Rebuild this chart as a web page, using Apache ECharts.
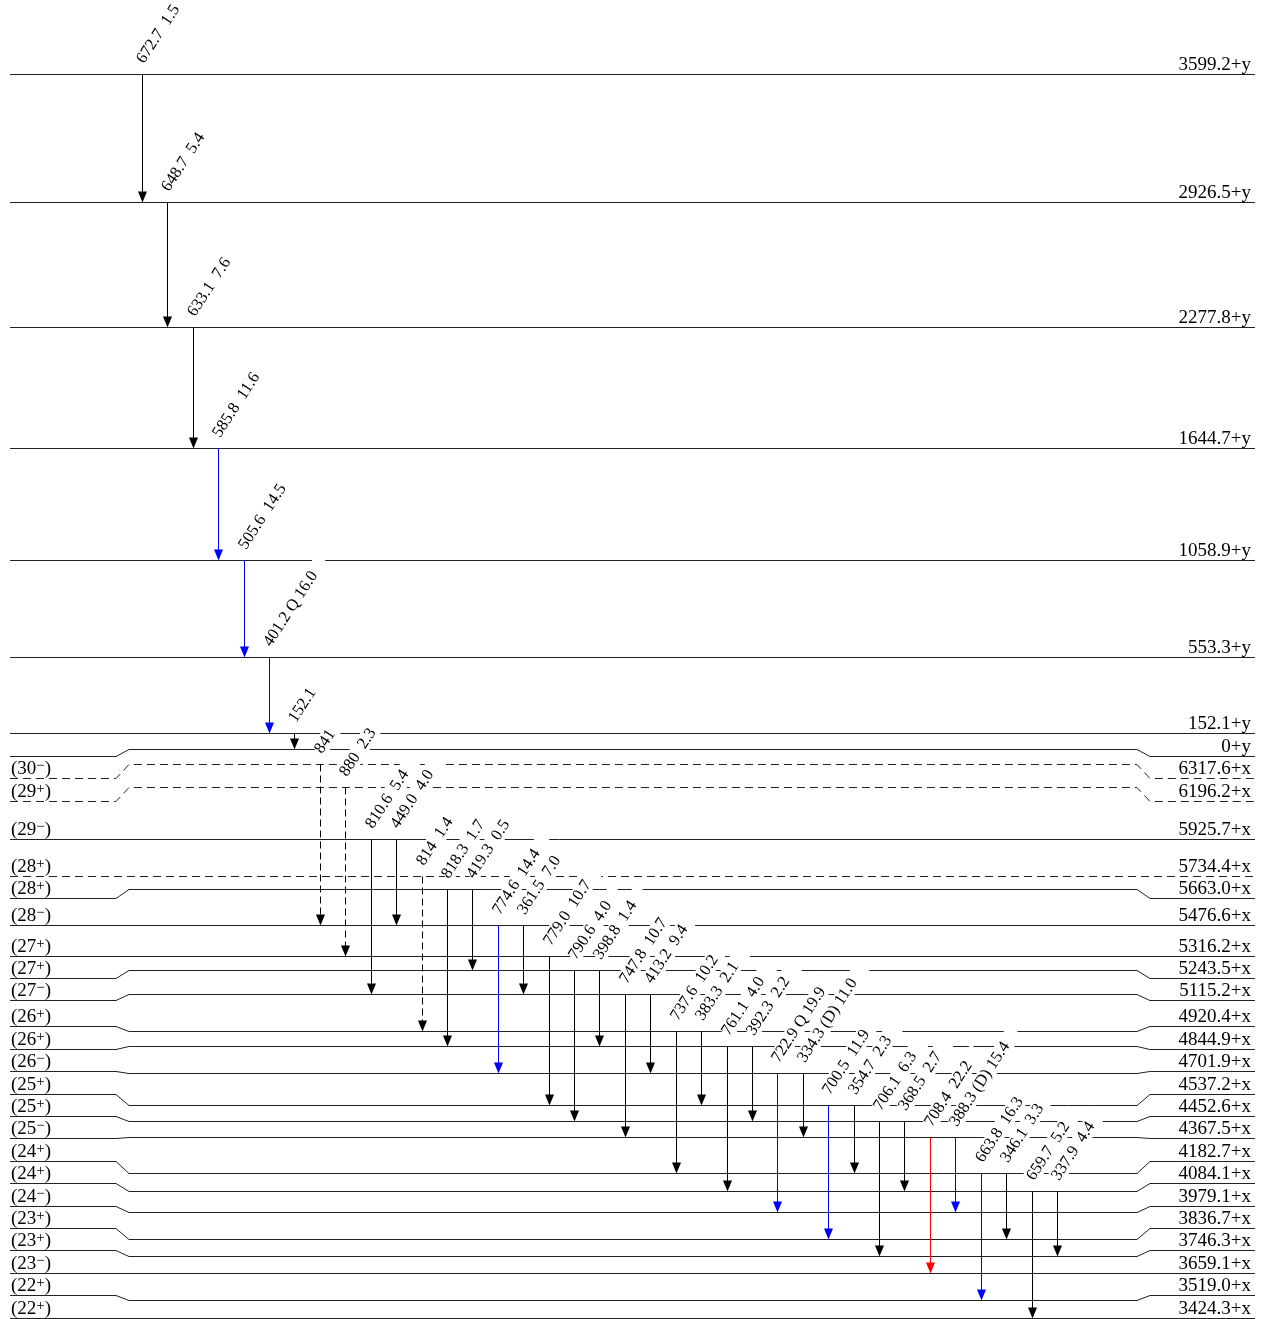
<!DOCTYPE html>
<html>
<head>
<meta charset="utf-8">
<script src="https://cdn.jsdelivr.net/npm/echarts@6/dist/echarts.min.js"></script>
<style>
  html, body { margin: 0; padding: 0; background: #fff; }
  #main { width: 1266px; height: 1319px; }
</style>
</head>
<body>
<div id="main"></div>
<script>
// levels above the unknown y (keV)
var yLevels = [3599.2, 2926.5, 2277.8, 1644.7, 1058.9, 553.3, 152.1, 0];
// levels above the unknown x (keV) and their spins
var xLevels = [6317.6, 6196.2, 5925.7, 5734.4, 5663.0, 5476.6, 5316.2, 5243.5, 5115.2, 4920.4, 4844.9, 4701.9,
  4537.2, 4452.6, 4367.5, 4182.7, 4084.1, 3979.1, 3836.7, 3746.3, 3659.1, 3519.0, 3424.3];
var xSpins = ['30-', '29+', '29-', '28+', '28+', '28-', '27+', '27+', '27-', '26+', '26+', '26-',
  '25+', '25+', '25-', '24+', '24+', '24-', '23+', '23+', '23-', '22+', '22+'];
var xTentative = [6317.6, 6196.2, 5734.4];

// gamma transitions, left to right
var gEnergy = ['672.7', '648.7', '633.1', '585.8', '505.6', '401.2', '152.1', '841', '880', '810.6', '449.0', '814',
  '818.3', '419.3', '774.6', '361.5', '779.0', '790.6', '398.8', '747.8', '413.2', '737.6', '383.3', '761.1',
  '392.3', '722.9', '334.3', '700.5', '354.7', '706.1', '368.5', '708.4', '388.3', '663.8', '346.1', '659.7', '337.9'];
var gMult = ['', '', '', '', '', 'Q', '', '', '', '', '', '', '', '', '', '', '', '', '', '', '', '', '', '',
  '', 'Q', '(D)', '', '', '', '', '', '(D)', '', '', '', ''];
var gInt = ['1.5', '5.4', '7.6', '11.6', '14.5', '16.0', '', '', '2.3', '5.4', '4.0', '1.4', '1.7', '0.5', '14.4',
  '7.0', '10.7', '4.0', '1.4', '10.7', '9.4', '10.2', '2.1', '4.0', '2.2', '19.9', '11.0', '11.9', '2.3', '6.3',
  '2.7', '22.2', '15.4', '16.3', '3.3', '5.2', '4.4'];
var gFrom = ['y3599.2', 'y2926.5', 'y2277.8', 'y1644.7', 'y1058.9', 'y553.3', 'y152.1', 'x6317.6', 'x6196.2',
  'x5925.7', 'x5925.7', 'x5734.4', 'x5663.0', 'x5663.0', 'x5476.6', 'x5476.6', 'x5316.2', 'x5243.5', 'x5243.5',
  'x5115.2', 'x5115.2', 'x4920.4', 'x4920.4', 'x4844.9', 'x4844.9', 'x4701.9', 'x4701.9', 'x4537.2', 'x4537.2',
  'x4452.6', 'x4452.6', 'x4367.5', 'x4367.5', 'x4182.7', 'x4182.7', 'x4084.1', 'x4084.1'];
var gTo = ['y2926.5', 'y2277.8', 'y1644.7', 'y1058.9', 'y553.3', 'y152.1', 'y0.0', 'x5476.6', 'x5316.2',
  'x5115.2', 'x5476.6', 'x4920.4', 'x4844.9', 'x5243.5', 'x4701.9', 'x5115.2', 'x4537.2', 'x4452.6', 'x4844.9',
  'x4367.5', 'x4701.9', 'x4182.7', 'x4537.2', 'x4084.1', 'x4452.6', 'x3979.1', 'x4367.5', 'x3836.7', 'x4182.7',
  'x3746.3', 'x4084.1', 'x3659.1', 'x3979.1', 'x3519.0', 'x3836.7', 'x3424.3', 'x3746.3'];
// std / band1 / band2 / tentative
var gKind = ['std', 'std', 'std', 'band1', 'band1', 'band1', 'std', 'tent', 'tent', 'std', 'std', 'tent', 'std',
  'std', 'band1', 'std', 'std', 'std', 'std', 'std', 'std', 'std', 'std', 'std', 'std', 'band1', 'std', 'band1',
  'std', 'std', 'std', 'band2', 'band1', 'band1', 'std', 'std', 'std'];

var Y_OFFSET = 6326;     // where the y band sits on the common axis
var MIN_SEP = 8;         // px, levels closer than this get pulled apart
var LABEL_GAP = 22.4;    // px between level labels
var FONT = '"Liberation Serif", "Times New Roman", serif';
var kindStyle = {
  std: { color: '#000', dash: null },
  band1: { color: '#0000ff', dash: null },
  band2: { color: '#ff0000', dash: null },
  tent: { color: '#000', dash: [7, 4] }
};

var levelData = [];
yLevels.forEach(function (e) {
  levelData.push({ value: [0, e + Y_OFFSET], key: 'y' + e.toFixed(1), text: (e === 0 ? '0' : e.toFixed(1)) + '+y', spin: '', tent: false });
});
xLevels.forEach(function (e, i) {
  levelData.push({ value: [0, e], key: 'x' + e.toFixed(1), text: e.toFixed(1) + '+x', spin: xSpins[i], tent: xTentative.indexOf(e) >= 0 });
});

function snap(v) { return Math.round(v) + 0.5; }

function levelLayout(api) {
  var list = levelData.map(function (d) { return { key: d.key, p: api.coord(d.value)[1] }; });
  list.sort(function (a, b) { return a.p - b.p; });
  var i;
  for (i = 1; i < list.length - 1; i++) {
    if (list[i + 1].p - list[i].p < MIN_SEP) list[i].p = (list[i - 1].p + list[i + 1].p) / 2;
  }
  for (i = 0; i < list.length; i++) {
    list[i].lp = i ? Math.max(list[i].p, list[i - 1].lp + LABEL_GAP) : list[i].p;
  }
  for (i = list.length - 1; i >= 0; i--) {
    var lim = i === list.length - 1 ? list[i].p : list[i + 1].lp - LABEL_GAP;
    list[i].lp = Math.min(list[i].lp, lim);
  }
  var map = {};
  list.forEach(function (d) { map[d.key] = d; });
  return map;
}

function renderLevel(params, api) {
  var d = levelData[params.dataIndex];
  var lv = levelLayout(api)[d.key];
  var L = params.coordSys.x, R = L + params.coordSys.width;
  var p = snap(lv.p), lp = snap(lv.lp);
  var kids = [{
    type: 'polyline',
    shape: { points: [[L, lp], [L + 106, lp], [L + 119, p], [R - 118, p], [R - 105, lp], [R, lp]] },
    style: { stroke: '#222', lineWidth: 1, fill: null, lineDash: d.tent ? [8, 5] : null }
  }, {
    type: 'text', x: R - 4, y: lp,
    style: { text: d.text, fill: '#000', font: '19px ' + FONT, align: 'right', verticalAlign: 'bottom' }
  }];
  if (d.spin) {
    var sign = d.spin.slice(-1) === '-' ? '\u2212' : '+';
    kids.push({
      type: 'text', x: L + 1, y: lp + 1,
      style: {
        text: '{n|(' + d.spin.slice(0, -1) + '}{s|' + sign + '}{n|)}',
        align: 'left', verticalAlign: 'bottom',
        rich: {
          n: { fontSize: 19, fontFamily: FONT, fill: '#000', lineHeight: 21 },
          s: { fontSize: 15, fontFamily: FONT, fill: '#000', verticalAlign: 'top', lineHeight: 17 }
        }
      }
    });
  }
  return { type: 'group', children: kids };
}

function renderGamma(params, api) {
  var i = params.dataIndex;
  var lay = levelLayout(api);
  var x = snap(api.coord([i, 0])[0]);
  var top = snap(lay[gFrom[i]].p), bot = snap(lay[gTo[i]].p);
  var st = kindStyle[gKind[i]];
  var label = gEnergy[i];
  if (gMult[i]) label += ' ' + gMult[i];
  if (gInt[i]) label += (gMult[i] ? ' ' : '  ') + gInt[i];
  return {
    type: 'group',
    children: [{
      type: 'text', x: x + 5, y: top - 8, rotation: 57 * Math.PI / 180, z2: 5,
      style: {
        text: label, fill: '#000', font: '16.5px ' + FONT, align: 'left', verticalAlign: 'bottom',
        backgroundColor: '#fff', padding: [0, 16, 0, 0]
      }
    }, {
      type: 'line', z2: 10,
      shape: { x1: x, y1: top, x2: x, y2: bot - 9 },
      style: { stroke: st.color, lineWidth: 1, lineDash: st.dash }
    }, {
      type: 'polygon', z2: 10,
      shape: { points: [[x - 4.5, bot - 11], [x + 4.5, bot - 11], [x, bot]] },
      style: { fill: st.color, stroke: null }
    }]
  };
}

var myChart = echarts.init(document.getElementById('main'));
var option = {
  backgroundColor: '#fff',
  animation: false,
  grid: { left: 10, right: 11, top: 0, bottom: 0 },
  xAxis: { type: 'value', min: -5.19, max: 43.79, show: false },
  yAxis: { type: 'value', min: 3417.5, max: 10310, show: false },
  series: [{
    type: 'custom', z: 1,
    renderItem: renderLevel,
    data: levelData.map(function (d) { return d.value; })
  }, {
    type: 'custom', z: 2,
    renderItem: renderGamma,
    data: gEnergy.map(function (e, i) { return [i, 0]; })
  }]
};
myChart.setOption(option);
</script>
</body>
</html>
